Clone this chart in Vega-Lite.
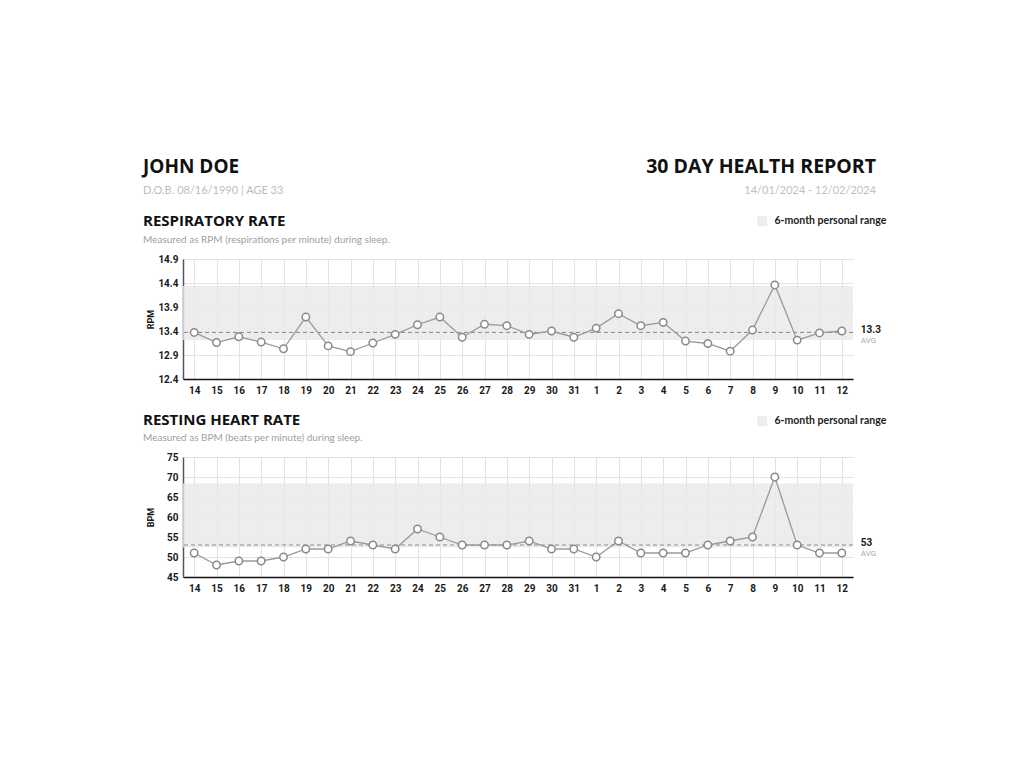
{
  "$schema": "https://vega.github.io/schema/vega-lite/v6.json",
  "background": "white",
  "padding": {"left": 143, "top": 157, "right": 10, "bottom": 10},
  "spacing": 18,
  "config": {
    "view": {"stroke": null},
    "font": "Lato",
    "axis": {
      "grid": true, "gridColor": "#e3e3e3", "gridWidth": 1, "ticks": false,
      "labelFont": "Roboto", "labelFontWeight": "bold", "labelFontSize": 10, "labelColor": "#1a1a1a",
      "domainColor": "#333333", "domainWidth": 1.5,
      "titleFont": "Roboto", "titleFontWeight": "bold", "titleFontSize": 9, "titleColor": "#1a1a1a"
    },
    "title": {
      "anchor": "start", "font": "Open Sans", "fontSize": 15, "fontWeight": "bold", "color": "#111111",
      "subtitleFont": "Lato", "subtitleFontSize": 10, "subtitleColor": "#a0a0a0", "subtitlePadding": 6
    }
  },
  "datasets": {
    "daily": [
      {"day": "14", "rpm": 13.37, "bpm": 51},
      {"day": "15", "rpm": 13.16, "bpm": 48},
      {"day": "16", "rpm": 13.28, "bpm": 49},
      {"day": "17", "rpm": 13.17, "bpm": 49},
      {"day": "18", "rpm": 13.03, "bpm": 50},
      {"day": "19", "rpm": 13.69, "bpm": 52},
      {"day": "20", "rpm": 13.09, "bpm": 52},
      {"day": "21", "rpm": 12.97, "bpm": 54},
      {"day": "22", "rpm": 13.15, "bpm": 53},
      {"day": "23", "rpm": 13.33, "bpm": 52},
      {"day": "24", "rpm": 13.53, "bpm": 57},
      {"day": "25", "rpm": 13.69, "bpm": 55},
      {"day": "26", "rpm": 13.27, "bpm": 53},
      {"day": "27", "rpm": 13.54, "bpm": 53},
      {"day": "28", "rpm": 13.51, "bpm": 53},
      {"day": "29", "rpm": 13.33, "bpm": 54},
      {"day": "30", "rpm": 13.40, "bpm": 52},
      {"day": "31", "rpm": 13.27, "bpm": 52},
      {"day": "1", "rpm": 13.46, "bpm": 50},
      {"day": "2", "rpm": 13.76, "bpm": 54},
      {"day": "3", "rpm": 13.51, "bpm": 51},
      {"day": "4", "rpm": 13.58, "bpm": 51},
      {"day": "5", "rpm": 13.19, "bpm": 51},
      {"day": "6", "rpm": 13.14, "bpm": 53},
      {"day": "7", "rpm": 12.98, "bpm": 54},
      {"day": "8", "rpm": 13.42, "bpm": 55},
      {"day": "9", "rpm": 14.36, "bpm": 70},
      {"day": "10", "rpm": 13.21, "bpm": 53},
      {"day": "11", "rpm": 13.36, "bpm": 51},
      {"day": "12", "rpm": 13.40, "bpm": 51}
    ],
    "rpmStats": [{"series": "6-month personal range", "low": 13.21, "high": 14.34, "avg": 13.37, "avgLabel": "13.3", "avgText": "AVG", "day": "12"}],
    "bpmStats": [{"series": "6-month personal range", "low": 52.4, "high": 68.4, "avg": 53.0, "avgLabel": "53", "avgText": "AVG", "day": "12"}],
    "header": [{"name": "JOHN DOE", "dob": "D.O.B. 08/16/1990  |  AGE 33", "report": "30 DAY HEALTH REPORT", "dates": "14/01/2024 - 12/02/2024"}]
  },
  "resolve": {"scale": {"x": "independent", "y": "independent", "color": "independent"}, "legend": {"color": "independent"}},
  "vconcat": [
    {
      "width": 693, "height": 23,
      "data": {"name": "header"},
      "layer": [
        {"mark": {"type": "text", "align": "left", "baseline": "alphabetic", "dx": -40, "font": "Open Sans", "fontSize": 19, "fontWeight": "bold", "color": "#111111"},
         "encoding": {"text": {"field": "name"}, "x": {"datum": 0, "type": "quantitative", "scale": {"domain": [0, 1]}, "axis": null}, "y": {"datum": 1, "type": "quantitative", "scale": {"domain": [0, 1]}, "axis": null}}},
        {"mark": {"type": "text", "align": "left", "baseline": "alphabetic", "dx": -40, "font": "Lato", "fontSize": 11, "color": "#bdbdbd"},
         "encoding": {"text": {"field": "dob"}, "x": {"datum": 0, "type": "quantitative"}, "y": {"datum": 0.1, "type": "quantitative"}}},
        {"mark": {"type": "text", "align": "right", "baseline": "alphabetic", "font": "Open Sans", "fontSize": 19.5, "fontWeight": "bold", "color": "#111111"},
         "encoding": {"text": {"field": "report"}, "x": {"datum": 1, "type": "quantitative"}, "y": {"datum": 1, "type": "quantitative"}}},
        {"mark": {"type": "text", "align": "right", "baseline": "alphabetic", "font": "Lato", "fontSize": 11, "color": "#c0c0c0"},
         "encoding": {"text": {"field": "dates"}, "x": {"datum": 1, "type": "quantitative"}, "y": {"datum": 0.1, "type": "quantitative"}}}
      ]
    },
    {
      "width": 670, "height": 120,
      "title": {"text": "RESPIRATORY RATE", "subtitle": "Measured as RPM (respirations per minute) during sleep.", "offset": -29, "subtitlePadding": 6, "dx": -3},
      "layer": [
        {"data": {"name": "rpmStats"},
         "mark": {"type": "rect", "opacity": 0.8},
         "encoding": {
           "y": {"field": "low", "type": "quantitative", "title": "RPM",
                 "scale": {"domain": [12.4, 14.9], "nice": false, "zero": false},
                 "axis": {"values": [12.4, 12.9, 13.4, 13.9, 14.4, 14.9], "tickCount": 20, "labelOverlap": false, "format": ".1f", "labelPadding": 5, "minExtent": 24, "maxExtent": 24, "titlePadding": 4, "domainColor": "#555555"}},
           "y2": {"field": "high"},
           "color": {"field": "series", "type": "nominal", "scale": {"range": ["#e8e8e9"]},
                     "legend": {"title": null, "orient": "none", "legendX": 574, "legendY": -43, "symbolType": "square", "symbolSize": 100, "symbolStrokeWidth": 0, "labelFont": "Lato", "labelFontSize": 10.5, "labelFontWeight": "bold", "labelColor": "#222222", "labelOffset": 7, "padding": 0}}
         }},
        {"data": {"name": "rpmStats"},
         "mark": {"type": "rule", "strokeDash": [4, 3], "color": "#8c8c8c", "strokeWidth": 1},
         "encoding": {"y": {"field": "avg", "type": "quantitative"}}},
        {"data": {"name": "daily"},
         "mark": {"type": "line", "color": "#9a9a9a", "strokeWidth": 1.3},
         "encoding": {
           "x": {"field": "day", "type": "ordinal", "title": null,
                 "scale": {"type": "point", "padding": 0.5, "domain": ["14","15","16","17","18","19","20","21","22","23","24","25","26","27","28","29","30","31","1","2","3","4","5","6","7","8","9","10","11","12"]},
                 "axis": {"labelAngle": 0, "labelPadding": 6, "domainColor": "#111111"}},
           "y": {"field": "rpm", "type": "quantitative"}
         }},
        {"data": {"name": "daily"},
         "mark": {"type": "point", "filled": false, "fill": "white", "stroke": "#8a8a8a", "strokeWidth": 1.5, "size": 55, "opacity": 1},
         "encoding": {"x": {"field": "day", "type": "ordinal"}, "y": {"field": "rpm", "type": "quantitative"}}},
        {"data": {"name": "rpmStats"},
         "mark": {"type": "text", "align": "left", "baseline": "middle", "dx": 19, "dy": -2, "font": "Roboto", "fontWeight": "bold", "fontSize": 10, "color": "#1a1a1a"},
         "encoding": {"x": {"field": "day", "type": "ordinal"}, "y": {"field": "avg", "type": "quantitative"}, "text": {"field": "avgLabel"}}},
        {"data": {"name": "rpmStats"},
         "mark": {"type": "text", "align": "left", "baseline": "middle", "dx": 19, "dy": 9, "font": "Roboto", "fontSize": 8, "color": "#aaaaaa"},
         "encoding": {"x": {"field": "day", "type": "ordinal"}, "y": {"field": "avg", "type": "quantitative"}, "text": {"field": "avgText"}}}
      ]
    },
    {
      "width": 670, "height": 120,
      "title": {"text": "RESTING HEART RATE", "subtitle": "Measured as BPM (beats per minute) during sleep.", "offset": -27, "subtitlePadding": 5, "dx": -3},
      "layer": [
        {"data": {"name": "bpmStats"},
         "mark": {"type": "rect", "opacity": 0.8},
         "encoding": {
           "y": {"field": "low", "type": "quantitative", "title": "BPM",
                 "scale": {"domain": [45, 75], "nice": false, "zero": false},
                 "axis": {"values": [45, 50, 55, 60, 65, 70, 75], "tickCount": 20, "labelOverlap": false, "labelPadding": 5, "minExtent": 24, "maxExtent": 24, "titlePadding": 4, "domainColor": "#555555"}},
           "y2": {"field": "high"},
           "color": {"field": "series", "type": "nominal", "scale": {"range": ["#e8e8e9"]},
                     "legend": {"title": null, "orient": "none", "legendX": 574, "legendY": -41, "symbolType": "square", "symbolSize": 100, "symbolStrokeWidth": 0, "labelFont": "Lato", "labelFontSize": 10.5, "labelFontWeight": "bold", "labelColor": "#222222", "labelOffset": 7, "padding": 0}}
         }},
        {"data": {"name": "bpmStats"},
         "mark": {"type": "rule", "strokeDash": [4, 3], "color": "#8c8c8c", "strokeWidth": 1},
         "encoding": {"y": {"field": "avg", "type": "quantitative"}}},
        {"data": {"name": "daily"},
         "mark": {"type": "line", "color": "#9a9a9a", "strokeWidth": 1.3},
         "encoding": {
           "x": {"field": "day", "type": "ordinal", "title": null,
                 "scale": {"type": "point", "padding": 0.5, "domain": ["14","15","16","17","18","19","20","21","22","23","24","25","26","27","28","29","30","31","1","2","3","4","5","6","7","8","9","10","11","12"]},
                 "axis": {"labelAngle": 0, "labelPadding": 6, "domainColor": "#111111"}},
           "y": {"field": "bpm", "type": "quantitative"}
         }},
        {"data": {"name": "daily"},
         "mark": {"type": "point", "filled": false, "fill": "white", "stroke": "#8a8a8a", "strokeWidth": 1.5, "size": 55, "opacity": 1},
         "encoding": {"x": {"field": "day", "type": "ordinal"}, "y": {"field": "bpm", "type": "quantitative"}}},
        {"data": {"name": "bpmStats"},
         "mark": {"type": "text", "align": "left", "baseline": "middle", "dx": 19, "dy": -2, "font": "Roboto", "fontWeight": "bold", "fontSize": 10, "color": "#1a1a1a"},
         "encoding": {"x": {"field": "day", "type": "ordinal"}, "y": {"field": "avg", "type": "quantitative"}, "text": {"field": "avgLabel"}}},
        {"data": {"name": "bpmStats"},
         "mark": {"type": "text", "align": "left", "baseline": "middle", "dx": 19, "dy": 9, "font": "Roboto", "fontSize": 8, "color": "#aaaaaa"},
         "encoding": {"x": {"field": "day", "type": "ordinal"}, "y": {"field": "avg", "type": "quantitative"}, "text": {"field": "avgText"}}}
      ]
    }
  ]
}
